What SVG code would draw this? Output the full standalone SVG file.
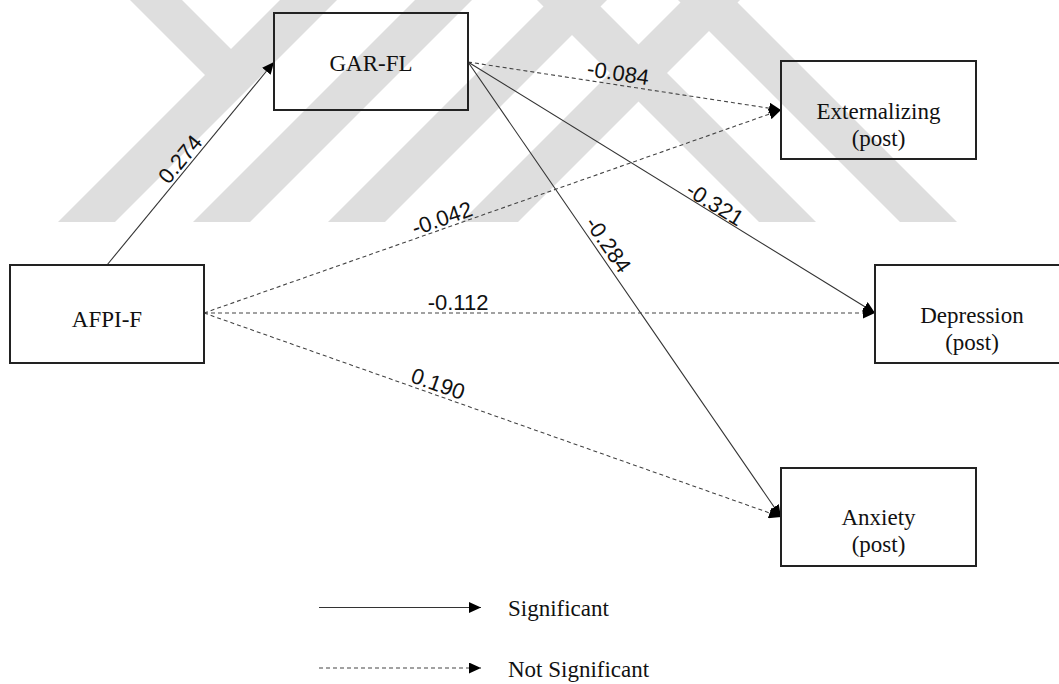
<svg xmlns="http://www.w3.org/2000/svg" width="1059" height="684" viewBox="0 0 1059 684">
<style>
.box{fill:none;stroke:#222;stroke-width:2}
.nt{font-family:"Liberation Serif","Times New Roman",serif;font-size:23px;fill:#111;text-anchor:middle}
.lb{font-family:"Liberation Sans",Arial,sans-serif;font-size:22px;fill:#111;text-anchor:middle}
.sol{stroke:#333;stroke-width:1.1;fill:none}
.dsh{stroke:#444;stroke-width:1.1;fill:none;stroke-dasharray:4 3}
.wm{fill:#dedede;stroke:none}
</style>
<defs>
<marker id="ah" markerUnits="userSpaceOnUse" markerWidth="13" markerHeight="11" refX="12" refY="5.5" orient="auto">
<path d="M0,0 L12,5.5 L0,11 Z" fill="#000"/>
</marker>
</defs>
<rect width="1059" height="684" fill="#fff"/>
<g id="watermark" class="wm">
<polygon points="58,222 115,222 337,0 280,0"/>
<polygon points="193,222 250,222 472,0 415,0"/>
<polygon points="328,222 385,222 607,0 550,0"/>
<polygon points="461,222 518,222 740,0 683,0"/>
<polygon points="130,0 182,0 241,59 215,85"/>
<polygon points="537,0 594,0 816,222 759,222"/>
<polygon points="678,0 735,0 957,222 900,222"/>
</g>
<g id="connectors">
<line class="sol" x1="107" y1="265" x2="274" y2="62" marker-end="url(#ah)"/>
<line class="dsh" x1="468" y1="62" x2="781" y2="110" marker-end="url(#ah)"/>
<line class="sol" x1="468" y1="62" x2="875" y2="313" marker-end="url(#ah)"/>
<line class="sol" x1="468" y1="62" x2="781" y2="517" marker-end="url(#ah)"/>
<line class="dsh" x1="204" y1="313" x2="781" y2="110" marker-end="url(#ah)"/>
<line class="dsh" x1="204" y1="313" x2="875" y2="313" marker-end="url(#ah)"/>
<line class="dsh" x1="204" y1="313" x2="781" y2="517" marker-end="url(#ah)"/>
<text class="lb" transform="translate(186,164) rotate(-50.6)">0.274</text>
<text class="lb" transform="translate(617,80.5) rotate(8.7)">-0.084</text>
<text class="lb" transform="translate(444.5,225.5) rotate(-19.4)">-0.042</text>
<text class="lb" transform="translate(711,210.5) rotate(31.7)">-0.321</text>
<text class="lb" transform="translate(602,249) rotate(55.5)">-0.284</text>
<text class="lb" x="458" y="310">-0.112</text>
<text class="lb" transform="translate(435.5,391) rotate(19.5)">0.190</text>
</g>
<g id="n-garfl">
<rect class="box" x="274" y="13" width="194" height="97"/>
<text class="nt" x="371" y="71">GAR-FL</text>
</g>
<g id="n-afpif">
<rect class="box" x="10" y="265" width="194" height="98"/>
<text class="nt" x="107" y="327">AFPI-F</text>
</g>
<g id="n-ext">
<rect class="box" x="781" y="61" width="195" height="98"/>
<text class="nt" x="878.5" y="119">Externalizing</text>
<text class="nt" x="878.5" y="146">(post)</text>
</g>
<g id="n-dep">
<rect class="box" x="875" y="265" width="195" height="98"/>
<text class="nt" x="972" y="323">Depression</text>
<text class="nt" x="972" y="350">(post)</text>
</g>
<g id="n-anx">
<rect class="box" x="781" y="468" width="195" height="98"/>
<text class="nt" x="878.5" y="525">Anxiety</text>
<text class="nt" x="878.5" y="552">(post)</text>
</g>
<g id="legend">
<line class="sol" x1="319" y1="607.5" x2="481" y2="607.5" marker-end="url(#ah)"/>
<line class="dsh" x1="319" y1="668" x2="481" y2="668" marker-end="url(#ah)"/>
<text class="nt" x="508" y="616" style="text-anchor:start">Significant</text>
<text class="nt" x="508" y="677" style="text-anchor:start">Not Significant</text>
</g>
</svg>
